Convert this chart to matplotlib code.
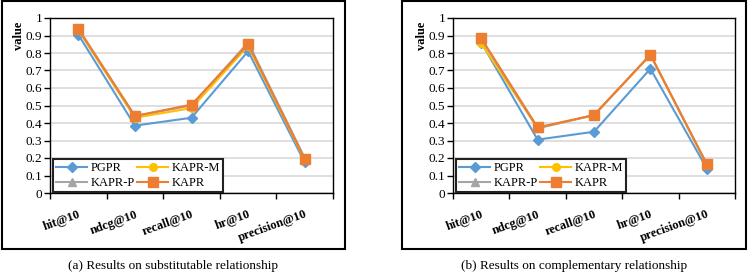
import numpy as np
import matplotlib.pyplot as plt
from matplotlib.patches import Rectangle

plt.rcParams['font.family'] = ['Liberation Serif', 'DejaVu Serif']

metrics = ['hit@10', 'ndcg@10', 'recall@10', 'hr@10', 'precision@10']
models = ['PGPR', 'KAPR-M', 'KAPR-P', 'KAPR']

# (a) substitutable
sub_pgpr = [0.905, 0.385, 0.43, 0.81, 0.175]
sub_kaprm = [0.93, 0.43, 0.485, 0.84, 0.19]
sub_kaprp = [0.935, 0.44, 0.50, 0.86, 0.20]
sub_kapr = [0.94, 0.44, 0.505, 0.85, 0.195]

# (b) complementary
com_pgpr = [0.86, 0.305, 0.35, 0.71, 0.14]
com_kaprm = [0.855, 0.37, 0.445, 0.79, 0.16]
com_kaprp = [0.88, 0.37, 0.445, 0.79, 0.165]
com_kapr = [0.885, 0.375, 0.445, 0.79, 0.165]

colors = {'PGPR': '#5B9BD5', 'KAPR-M': '#FFC000', 'KAPR-P': '#A5A5A5', 'KAPR': '#ED7D31'}
markers = {'PGPR': 'D', 'KAPR-M': 'o', 'KAPR-P': '^', 'KAPR': 's'}
msizes = {'PGPR': 5, 'KAPR-M': 5.5, 'KAPR-P': 6, 'KAPR': 6.5}

fig = plt.figure(figsize=(7.48, 2.78), dpi=100)

panels = [
    ([50, 18, 333, 193], [2, 1, 345, 249], '(a) Results on substitutable relationship',
     [sub_pgpr, sub_kaprm, sub_kaprp, sub_kapr]),
    ([453, 18, 735, 193], [402, 1, 746, 249], '(b) Results on complementary relationship',
     [com_pgpr, com_kaprm, com_kaprp, com_kapr]),
]

W, H = 748.0, 278.0
for (x0, y0, x1, y1), (bx0, by0, bx1, by1), caption, series in panels:
    ax = fig.add_axes([x0 / W, 1 - y1 / H, (x1 - x0) / W, (y1 - y0) / H])
    x = np.arange(len(metrics))
    handles = {}
    for name, vals in zip(models, series):
        h, = ax.plot(x, vals, color=colors[name], marker=markers[name],
                     markersize=msizes[name], linewidth=1.5, label=name)
        handles[name] = h
    ax.set_xlim(-0.5, len(metrics) - 0.5)
    ax.set_ylim(0, 1)
    ax.set_yticks(np.arange(0, 1.01, 0.1))
    ax.set_yticklabels(['0'] + ['%.1f' % v for v in np.arange(0.1, 0.95, 0.1)] + ['1'],
                       fontsize=9.5)
    ax.yaxis.grid(True, color='#D9D9D9', linewidth=1.2)
    ax.set_axisbelow(True)
    ax.set_xticks(x)
    ax.set_xticklabels(metrics, rotation=20, ha='right', rotation_mode='anchor',
                       fontsize=9, fontweight='bold')
    ax.tick_params(axis='x', which='major', length=0, pad=11)
    ax.set_xticks(np.arange(-0.5, len(metrics), 1.0), minor=True)
    ax.tick_params(axis='x', which='minor', length=4, width=1, direction='out')
    ax.tick_params(axis='y', length=4, width=1, direction='out', pad=1.5)
    for s in ax.spines.values():
        s.set_linewidth(1)
        s.set_color('black')
    ax.set_ylabel('value', fontsize=9, fontweight='bold')
    ax.yaxis.set_label_coords(-0.088, 0.90)
    leg = ax.legend([handles['PGPR'], handles['KAPR-P'], handles['KAPR-M'], handles['KAPR']],
                    ['PGPR', 'KAPR-P', 'KAPR-M', 'KAPR'], ncol=2, loc='lower left',
                    bbox_to_anchor=(0.01, 0.005), borderaxespad=0, fontsize=9,
                    fancybox=False, framealpha=1, handlelength=2.5, handletextpad=0.25,
                    columnspacing=0.2, labelspacing=0.25, borderpad=0.25)
    leg.get_frame().set_edgecolor('#222222')
    leg.get_frame().set_linewidth(1.5)
    fig.patches.append(Rectangle((bx0 / W, 1 - by1 / H), (bx1 - bx0) / W, (by1 - by0) / H,
                                 transform=fig.transFigure, fill=False,
                                 edgecolor='black', linewidth=1.5))
    fig.text((bx0 + bx1) / 2 / W, 1 - 266 / H, caption, ha='center', va='center', fontsize=9.5)

fig.savefig('out.png', dpi=100)
